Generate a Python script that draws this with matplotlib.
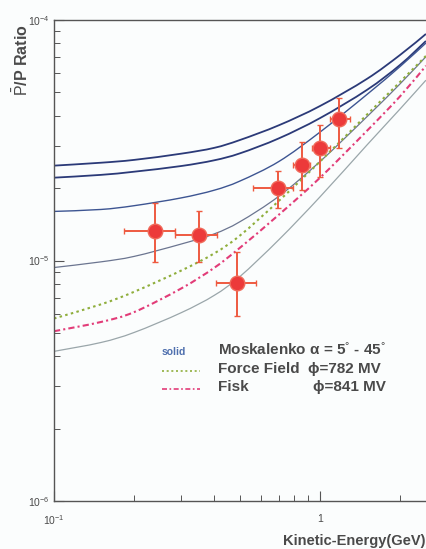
import matplotlib
matplotlib.use("Agg")
import numpy as np
import matplotlib.pyplot as plt
from matplotlib.lines import Line2D
from matplotlib.path import Path
from matplotlib.patches import PathPatch
from matplotlib.transforms import IdentityTransform
from matplotlib.ticker import LogLocator, NullFormatter, FixedLocator, FixedFormatter

# ----------------------------
# Data
# ----------------------------
energy = [0.1, 0.15, 0.2, 0.3, 0.4, 0.5, 0.7, 1.0, 1.5, 2.0, 2.5]

# Moskalenko, solid curves (alpha = 5 .. 45 deg)
mosk_1 = [2.48e-5, 2.55e-5, 2.62e-5, 2.78e-5, 2.94e-5, 3.17e-5, 3.65e-5, 4.39e-5, 5.69e-5, 7.16e-5, 8.75e-5]
mosk_2 = [2.21e-5, 2.27e-5, 2.34e-5, 2.47e-5, 2.61e-5, 2.79e-5, 3.22e-5, 3.91e-5, 5.12e-5, 6.51e-5, 8.18e-5]
mosk_3 = [1.60e-5, 1.63e-5, 1.69e-5, 1.82e-5, 1.96e-5, 2.14e-5, 2.58e-5, 3.42e-5, 4.90e-5, 6.41e-5, 8.02e-5]
mosk_4 = [0.935e-5, 0.987e-5, 1.04e-5, 1.17e-5, 1.29e-5, 1.45e-5, 1.85e-5, 2.58e-5, 3.96e-5, 5.43e-5, 7.04e-5]
mosk_5 = [0.419e-5, 0.456e-5, 0.502e-5, 0.606e-5, 0.716e-5, 0.858e-5, 1.22e-5, 1.84e-5, 3.02e-5, 4.27e-5, 5.62e-5]

# Force Field phi=782 MV / Fisk phi=841 MV
force_field = [0.574e-5, 0.657e-5, 0.741e-5, 0.907e-5, 1.07e-5, 1.27e-5, 1.77e-5, 2.58e-5, 4.04e-5, 5.53e-5, 7.09e-5]
fisk = [0.508e-5, 0.555e-5, 0.610e-5, 0.764e-5, 0.932e-5, 1.13e-5, 1.55e-5, 2.21e-5, 3.46e-5, 4.82e-5, 6.45e-5]

# measured points
pt_x = [0.240, 0.351, 0.487, 0.695, 0.856, 1.00, 1.18]
pt_xlo = [0.183, 0.285, 0.406, 0.560, 0.791, 0.933, 1.09]
pt_xhi = [0.285, 0.410, 0.575, 0.791, 0.917, 1.09, 1.30]
pt_y = [1.33e-5, 1.28e-5, 0.81e-5, 2.01e-5, 2.50e-5, 2.95e-5, 3.88e-5]
pt_ylo = [0.99e-5, 0.99e-5, 0.585e-5, 1.66e-5, 1.97e-5, 2.23e-5, 2.95e-5]
pt_yhi = [1.74e-5, 1.61e-5, 1.08e-5, 2.36e-5, 3.12e-5, 3.67e-5, 4.75e-5]

# ----------------------------
# Style
# ----------------------------
plt.rcParams['font.family'] = ['Liberation Sans', 'DejaVu Sans']
plt.rcParams['mathtext.fontset'] = 'custom'
plt.rcParams['mathtext.rm'] = 'Liberation Sans'
plt.rcParams['mathtext.it'] = 'Liberation Sans:italic'
plt.rcParams['mathtext.bf'] = 'Liberation Sans:bold'

TXT = "#4a4a4a"
BG = "#fbfdfd"
W, H = 426, 549

fig = plt.figure(figsize=(W / 100, H / 100), dpi=100, facecolor=BG)
# axes: x decade = 266 px, starts at px 54; y from px 20 (1e-4) to 501 (1e-6)
ax = fig.add_axes([54 / W, (H - 501) / H, 393 / W, 481 / H])
ax.set_facecolor(BG)
ax.set_xscale("log")
ax.set_yscale("log")
ax.set_xlim(0.1, 3.0)
ax.set_ylim(1e-6, 1e-4)


def smooth_curve(xs, ys, **kw):
    # smooth line through the points (Catmull-Rom -> cubic Bezier, in display space)
    p = ax.transData.transform(np.column_stack([xs, ys]))
    n = len(p)
    verts = [p[0]]
    codes = [Path.MOVETO]
    for i in range(n - 1):
        p0 = p[i - 1] if i > 0 else p[i]
        p1, p2 = p[i], p[i + 1]
        p3 = p[i + 2] if i + 2 < n else p[i + 1]
        c1 = p1 + (p2 - p0) / 6.0
        c2 = p2 - (p3 - p1) / 6.0
        verts += [c1, c2, p2]
        codes += [Path.CURVE4] * 3
    patch = PathPatch(Path(verts, codes), fill=False, transform=IdentityTransform(), **kw)
    patch.set_clip_path(ax.patch)
    ax.add_artist(patch)


# ----------------------------
# Curves
# ----------------------------
smooth_curve(energy, mosk_1, edgecolor="#2b3a78", lw=1.3)
smooth_curve(energy, mosk_2, edgecolor="#2b3a78", lw=1.3)
smooth_curve(energy, mosk_3, edgecolor="#3d5592", lw=1.0)
smooth_curve(energy, mosk_4, edgecolor="#6b7590", lw=0.9)
smooth_curve(energy, mosk_5, edgecolor="#9aa6aa", lw=0.9)
smooth_curve(energy, force_field, edgecolor="#8fae3c", lw=1.5, ls=(0, (1.2, 1.6)))
smooth_curve(energy, fisk, edgecolor="#e23c78", lw=1.5, ls=(0, (3, 1.5, 1, 1.5)))

# data points with error bars
yerr = [[y - lo for y, lo in zip(pt_y, pt_ylo)], [hi - y for y, hi in zip(pt_y, pt_yhi)]]
xerr = [[x - lo for x, lo in zip(pt_x, pt_xlo)], [hi - x for x, hi in zip(pt_x, pt_xhi)]]
ax.errorbar(pt_x, pt_y, xerr=xerr, yerr=yerr, fmt="o", ms=10.5,
            mfc="#ec3a3a", mec="#f06a5a", mew=1.0,
            ecolor="#ee5a40", elinewidth=1.4, capsize=2, capthick=1.0, zorder=5)

# ----------------------------
# Axes / ticks
# ----------------------------
ax.spines["right"].set_visible(False)
for s in ["left", "bottom", "top"]:
    ax.spines[s].set_color("#555555")
    ax.spines[s].set_linewidth(1.0)

ax.yaxis.set_major_locator(LogLocator(base=10, numticks=5))
ax.yaxis.set_minor_locator(LogLocator(base=10, subs=range(2, 10), numticks=20))
ax.yaxis.set_minor_formatter(NullFormatter())
ax.xaxis.set_major_locator(FixedLocator([0.1, 1.0]))
ax.xaxis.set_major_formatter(FixedFormatter(["10$^{-1}$", "1"]))
ax.xaxis.set_minor_locator(LogLocator(base=10, subs=range(2, 10), numticks=20))
ax.xaxis.set_minor_formatter(NullFormatter())

ax.tick_params(axis="both", which="both", direction="in", colors="#555555",
               labelcolor=TXT, labelsize=7.5, top=False, right=False)
ax.tick_params(axis="both", which="major", length=7, width=0.8)
ax.tick_params(axis="both", which="minor", length=4, width=0.7)
ax.tick_params(axis="x", which="major", pad=9)
ax.tick_params(axis="y", which="major", pad=3)

fig.text(426 / W, 1 - 541 / H, "Kinetic-Energy(GeV)", ha="right", va="center",
         fontsize=10.5, fontweight="bold", color=TXT)
fig.text(21 / W, 1 - 24 / H, r"$\bar{\mathrm{P}}$/P Ratio", rotation=90, ha="center", va="top",
         fontsize=11.5, fontweight="bold", color=TXT)

# ----------------------------
# Legend (drawn by hand)
# ----------------------------
def fx(px):
    return px / W


def fy(py):
    return 1 - py / H


fig.text(fx(162), fy(352), "solid", fontsize=7.5, fontweight="bold", color="#4e6fae", va="center")
fig.add_artist(Line2D([fx(162), fx(200)], [fy(371), fy(371)], color="#8fae3c", lw=1.2,
                      ls=(0, (1.2, 1.6))))
fig.add_artist(Line2D([fx(162), fx(200)], [fy(389), fy(389)], color="#e23c78", lw=1.2,
                      ls=(0, (3, 1.5, 1, 1.5))))

fig.text(fx(218), fy(350), "Moskalenko \u03b1 = 5$^{\\degree}$ - 45$^{\\degree}$", fontsize=11,
         fontweight="bold", color=TXT, va="center")
fig.text(fx(218), fy(369), "Force Field", fontsize=11, fontweight="bold", color=TXT, va="center")
fig.text(fx(308), fy(369), "\u03d5=782 MV", fontsize=11, fontweight="bold", color=TXT, va="center")
fig.text(fx(218), fy(387), "Fisk", fontsize=11, fontweight="bold", color=TXT, va="center")
fig.text(fx(313), fy(387), "\u03d5=841 MV", fontsize=11, fontweight="bold", color=TXT, va="center")

fig.savefig("out.png", dpi=100, facecolor=fig.get_facecolor())
